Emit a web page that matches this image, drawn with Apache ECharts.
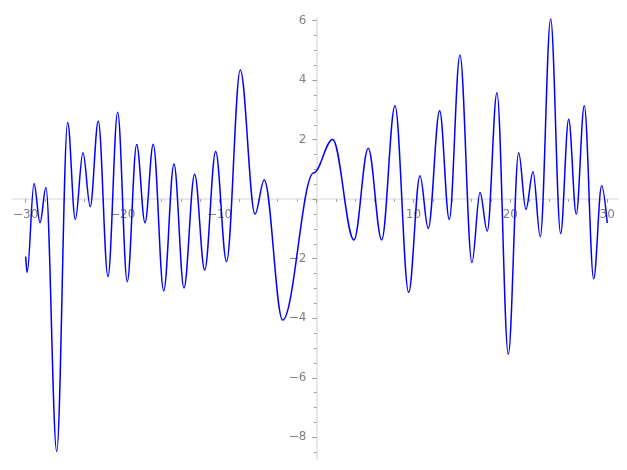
<!DOCTYPE html>
<html>
<head>
<meta charset="utf-8">
<script src="https://cdn.jsdelivr.net/npm/echarts@6/dist/echarts.min.js"></script>
<style>
html,body{margin:0;padding:0;background:#fff;}
#chart{width:627px;height:470px;}
</style>
</head>
<body>
<div id="chart"></div>
<script>
// curve samples (x, y): extrema and a shoulder point
const curveX = [-30, -29.85, -29.14, -28.52, -27.91, -26.80, -25.67, -24.88, -24.09, -23.34,
  -22.51, -21.51, -20.51, -19.52, -18.55, -17.69, -16.84, -15.76, -14.70, -13.67,
  -12.57, -11.53, -10.40, -9.28, -7.86, -6.34, -5.39, -3.49, -0.30, 1.67,
  3.87, 5.34, 6.73, 8.10, 9.51, 10.68, 11.53, 12.71, 13.70, 14.80,
  16.04, 16.87, 17.62, 18.62, 19.79, 20.86, 21.61, 22.34, 23.09, 24.16,
  25.19, 26.02, 26.80, 27.63, 28.60, 29.42, 30];
const curveY = [-1.93, -2.46, 0.53, -0.79, 0.39, -8.48, 2.58, -0.68, 1.56, -0.25,
  2.63, -2.60, 2.92, -2.77, 1.84, -0.79, 1.85, -3.08, 1.18, -2.98,
  0.84, -2.38, 1.60, -2.10, 4.34, -0.50, 0.65, -4.06, 0.88, 2.01,
  -1.37, 1.71, -1.37, 3.14, -3.13, 0.79, -0.98, 2.97, -0.68, 4.85,
  -2.13, 0.23, -1.07, 3.58, -5.21, 1.56, -0.34, 0.92, -1.26, 6.06,
  -1.15, 2.69, -0.50, 3.14, -2.67, 0.45, -0.80];

// axis extents and ticks
const xRange = [-31.35, 31.15];
const yRange = [-8.75, 6.08];
const xTickRange = [-30, 30];      // major every 10, minor every 2
const xMajorStep = 10, xMinorStep = 2;
const yTickRange = [-8, 6];        // major every 2
const yMinorRange = [-8.5, 6];     // minor every 0.5
const yMajorStep = 2, yMinorStep = 0.5;

const data = curveX.map((x, i) => [x, curveY[i]]);
const fmt = v => (v === 0 ? '' : String(v).replace('-', '\u2212'));
const labelStyle = {color: '#808080', fontFamily: 'DejaVu Sans', fontSize: 12};
const tickColor = '#9a9a9a';

const W0 = 627, H0 = 470;
const G = {left: 12.6, right: 8.6, top: 18.3, bottom: 10.4};
const gw = W0 - G.left - G.right, gh = H0 - G.top - G.bottom;
const pxX = gw / (xRange[1] - xRange[0]);
const pxY = gh / (yRange[1] - yRange[0]);
const offX = -(0 - yRange[0]) * pxY;   // move x axes up to y = 0
const offY = -(0 - xRange[0]) * pxX;   // move y axes right to x = 0

const grids = [
  {left: G.left, top: G.top, width: gw, height: gh},
  {left: G.left + (xTickRange[0] - xRange[0]) * pxX, top: G.top,
   width: (xTickRange[1] - xTickRange[0]) * pxX, height: gh},
  {left: G.left, width: gw, top: G.top + (yRange[1] - yTickRange[1]) * pxY,
   height: (yTickRange[1] - yTickRange[0]) * pxY},
  {left: G.left, width: gw, top: G.top + (yRange[1] - yMinorRange[1]) * pxY,
   height: (yMinorRange[1] - yMinorRange[0]) * pxY}
].map(g => Object.assign({outerBoundsMode: 'none', containLabel: false}, g));

const hidden = (gi, r) => ({type: 'value', gridIndex: gi, min: r[0], max: r[1], show: false});

const chart = echarts.init(document.getElementById('chart'), null, {renderer: 'canvas'});
chart.setOption({
  animation: false,
  backgroundColor: '#ffffff',
  grid: grids,
  xAxis: [
    { // axis line at y = 0
      type: 'value', gridIndex: 0, min: xRange[0], max: xRange[1], position: 'bottom', offset: offX,
      axisLine: {show: true, onZero: false, lineStyle: {color: '#e3e3e3', width: 1.6}},
      axisTick: {show: false}, axisLabel: {show: false}, splitLine: {show: false}
    },
    { // major ticks + labels
      type: 'value', gridIndex: 1, min: xTickRange[0], max: xTickRange[1], interval: xMajorStep,
      position: 'bottom', offset: offX,
      axisLine: {show: false, onZero: false},
      axisTick: {show: true, length: 3.5, lineStyle: {color: tickColor, width: 1}},
      axisLabel: Object.assign({show: true, margin: 10, formatter: fmt, showMinLabel: true, showMaxLabel: true}, labelStyle),
      splitLine: {show: false}
    },
    { // minor ticks
      type: 'value', gridIndex: 1, min: xTickRange[0], max: xTickRange[1], interval: xMinorStep,
      position: 'bottom', offset: offX,
      axisLine: {show: false, onZero: false},
      axisTick: {show: true, length: 2.5, lineStyle: {color: tickColor, width: 1}},
      axisLabel: {show: false}, splitLine: {show: false}
    },
    hidden(2, xRange),
    hidden(3, xRange)
  ],
  yAxis: [
    { // axis line at x = 0
      type: 'value', gridIndex: 0, min: yRange[0], max: yRange[1], position: 'left', offset: offY,
      axisLine: {show: true, onZero: false, lineStyle: {color: '#e3e3e3', width: 1.6}},
      axisTick: {show: false}, axisLabel: {show: false}, splitLine: {show: false}
    },
    hidden(1, yRange),
    { // major ticks + labels
      type: 'value', gridIndex: 2, min: yTickRange[0], max: yTickRange[1], interval: yMajorStep,
      position: 'left', offset: offY,
      axisLine: {show: false, onZero: false},
      axisTick: {show: true, length: 4, lineStyle: {color: tickColor, width: 1}},
      axisLabel: Object.assign({show: true, margin: 10, formatter: fmt, showMinLabel: true, showMaxLabel: true}, labelStyle),
      splitLine: {show: false}
    },
    { // minor ticks
      type: 'value', gridIndex: 3, min: yMinorRange[0], max: yMinorRange[1], interval: yMinorStep,
      position: 'left', offset: offY,
      axisLine: {show: false, onZero: false},
      axisTick: {show: true, length: 2.5, lineStyle: {color: tickColor, width: 1}},
      axisLabel: {show: false}, splitLine: {show: false}
    }
  ],
  series: [{
    type: 'line',
    xAxisIndex: 0, yAxisIndex: 0,
    data: data,
    showSymbol: false,
    smooth: 0.36,
    smoothMonotone: 'x',
    lineStyle: {color: '#0000ff', width: 1.5},
    clip: false,
    z: 5
  }]
});
</script>
</body>
</html>
